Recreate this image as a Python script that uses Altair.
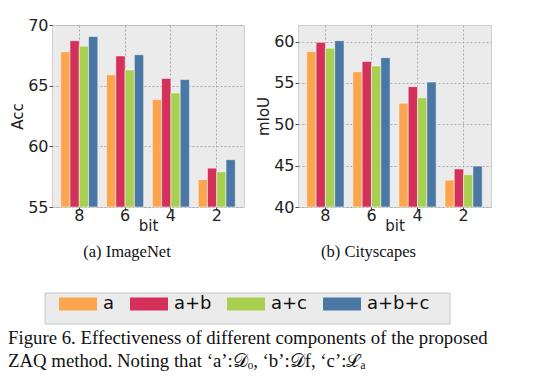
import altair as alt
import pandas as pd

bits = ["8", "6", "4", "2"]
series = ["a", "a+b", "a+c", "a+b+c"]
colors = ["#FCA54F", "#D3305A", "#A8D050", "#4A77A4"]

imagenet_a = [67.8, 65.9, 63.85, 57.25]
imagenet_ab = [68.7, 67.45, 65.6, 58.2]
imagenet_ac = [68.25, 66.3, 64.4, 57.9]
imagenet_abc = [69.05, 67.55, 65.5, 58.9]

city_a = [58.8, 56.35, 52.55, 43.25]
city_ab = [59.9, 57.6, 54.55, 44.6]
city_ac = [59.2, 57.05, 53.2, 43.9]
city_abc = [60.1, 58.05, 55.1, 44.95]

imagenet_ticks = [55, 60, 65, 70]
city_ticks = [40, 45, 50, 55, 60]

caption_1 = "Figure 6. Effectiveness of different components of the proposed"
caption_2 = "ZAQ method. Noting that \u2018a\u2019:\U0001D49F\u2092, \u2018b\u2019:\U0001D49Ff, \u2018c\u2019:\u2112\u2090"


def long(vals):
    rows = []
    for s, arr in zip(series, vals):
        for b, v in zip(bits, arr):
            rows.append({"bit": b, "series": s, "value": v})
    return pd.DataFrame(rows)


df_img = long([imagenet_a, imagenet_ab, imagenet_ac, imagenet_abc])
df_city = long([city_a, city_ab, city_ac, city_abc])

AXFONT = "DejaVu Sans"
SERIF = "Liberation Serif"


def panel(df, ytitle, dom, ticks, subtitle, w, h, sub_dx):
    return alt.Chart(df).mark_bar(stroke="white", strokeOpacity=0.5, strokeWidth=1).encode(
        x=alt.X("bit:N", sort=bits, title="bit",
                scale=alt.Scale(paddingInner=0.19, paddingOuter=0.19),
                axis=alt.Axis(labelAngle=0, labelFont=AXFONT, labelFontSize=16, labelColor="#222",
                              titleFont=AXFONT, titleFontSize=15, titleFontWeight="normal", titleColor="#222",
                              titlePadding=-5, labelPadding=-3, tickSize=3, tickColor="#444",
                              domain=False, grid=True, gridColor="#AAAAAA", gridDash=[2, 2],
                              bandPosition=0.5)),
        xOffset=alt.XOffset("series:N", sort=series),
        y=alt.Y("value:Q", title=ytitle,
                scale=alt.Scale(domain=dom, zero=False, nice=False),
                axis=alt.Axis(values=ticks, labelFont=AXFONT, labelFontSize=16, labelColor="#222",
                              titleFont=AXFONT, titleFontSize=15, titleFontWeight="normal", titleColor="#222",
                              titlePadding=2, labelPadding=1, tickSize=3, tickColor="#444",
                              domain=False, grid=True, gridColor="#AAAAAA", gridDash=[2, 2])),
        y2=alt.datum(dom[0]),
        color=alt.Color("series:N", sort=series,
                        scale=alt.Scale(domain=series, range=colors),
                        legend=alt.Legend(orient="none", legendX=2, legendY=255, direction="horizontal",
                                          columns=4, title=None,
                                          padding=5, columnPadding=15,
                                          symbolType="M-1,-0.342H1V0.342H-1Z", symbolSize=1444,
                                          symbolStrokeWidth=0, symbolOpacity=1,
                                          labelFont=AXFONT, labelFontSize=18, labelColor="#111",
                                          labelOffset=6)),
    ).properties(
        width=w, height=h,
        view=alt.ViewBackground(fill="#EBEBEB", stroke="#CFCFCF", strokeWidth=1),
        title=alt.TitleParams(subtitle, orient="bottom", font=SERIF, fontSize=16.5,
                              fontWeight="normal", color="#111", offset=11,
                              frame="group", anchor="middle", dx=sub_dx),
    )


left = panel(df_img, "Acc", [55, 70], imagenet_ticks, "(a)  ImageNet", 192, 182, -21)
right = panel(df_city, "mIoU", [40, 62], city_ticks, "(b)  Cityscapes", 193, 182, -26)

cap_df = pd.DataFrame({"line": [caption_1, caption_2], "row": [0, 1]})
box = alt.Chart(cap_df).transform_filter("datum.row == 0").mark_rect(
    fill="#EBEBEB", stroke="#C8C8C8", strokeWidth=1
).encode(x=alt.value(-7), x2=alt.value(398), y=alt.value(-25), y2=alt.value(6))
cap1 = alt.Chart(cap_df).transform_filter("datum.row == 0").mark_text(
    font=SERIF, fontSize=18.8, align="left", baseline="alphabetic", color="#111"
).encode(text="line:N", x=alt.value(-44), y=alt.value(26))
cap2 = alt.Chart(cap_df).transform_filter("datum.row == 1").mark_text(
    font=SERIF, fontSize=18.8, align="left", baseline="alphabetic", color="#111"
).encode(text="line:N", x=alt.value(-44), y=alt.value(49))
caption = alt.layer(box, cap1, cap2).properties(
    width=440, height=40,
    view=alt.ViewBackground(fillOpacity=0, strokeOpacity=0),
)

top = alt.hconcat(left, right, spacing=11).resolve_scale(x="independent", y="independent",
                                                          xOffset="independent")
chart = alt.vconcat(top, caption, spacing=31).properties(
    padding={"left": 0, "top": 8, "right": 0, "bottom": 0},
    background="white",
)

chart.save("out.html", embed_options={"renderer": "svg", "actions": False})
